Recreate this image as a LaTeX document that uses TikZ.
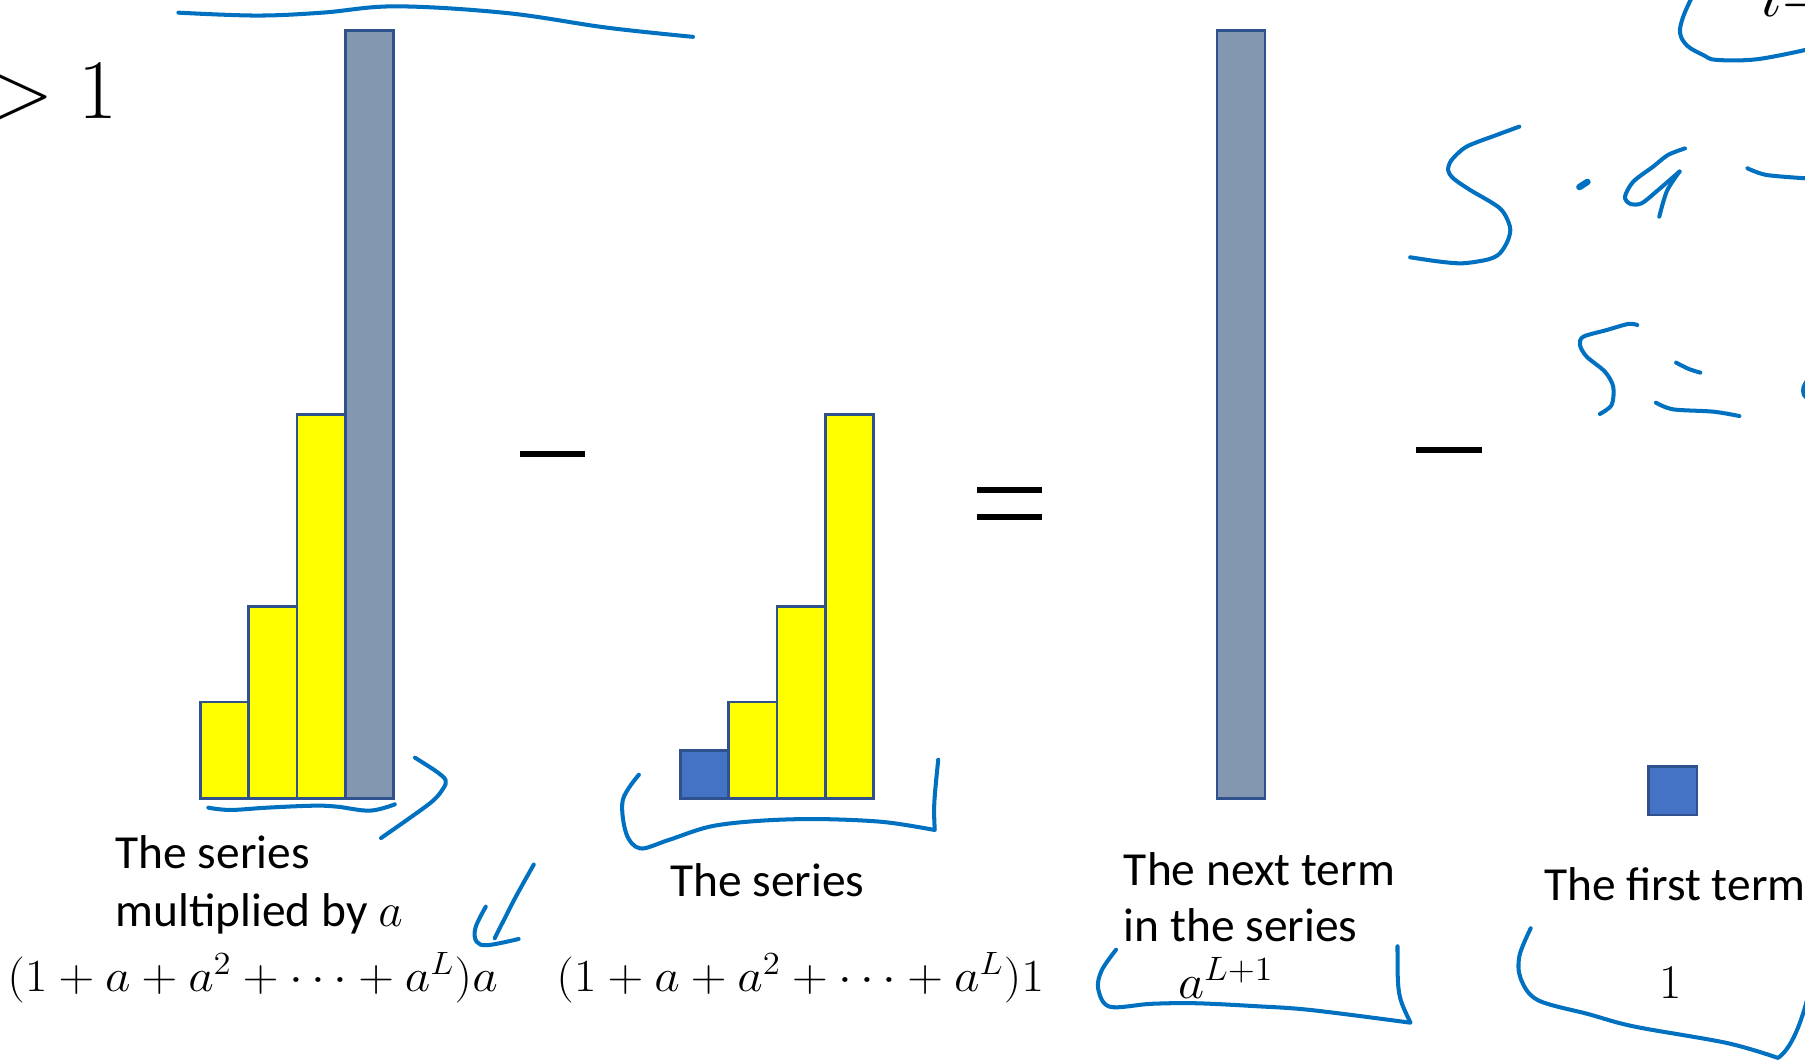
\RequirePackage{fix-cm}
\documentclass[tikz,border=0pt]{standalone}
\usepackage[no-math]{fontspec}
\usepackage{graphicx}
\setmainfont{Carlito}
\definecolor{ink}{HTML}{0070C0}
\definecolor{barY}{HTML}{FFFF00}
\definecolor{barG}{HTML}{8497B0}
\definecolor{barB}{HTML}{4472C4}
\definecolor{edgeC}{HTML}{2F528F}
\begin{document}
\begin{tikzpicture}[x=0.5pt,y=-0.5pt,
  pen/.style={draw=ink, line width=1.75pt, line cap=round, line join=round},
  bar/.style={draw=edgeC, line width=1.1pt},
  sign/.style={draw=black, line width=2.6pt},
  lbl/.style={inner sep=0pt, anchor=base west, font=\fontsize{20.6}{25}\selectfont},
  eqn/.style={inner sep=0pt, font=\fontsize{20}{24}\selectfont}]
\useasboundingbox (0,0) rectangle (1568,922);

% ---- group 1: series times a
\filldraw[bar, fill=barY] (174,610) rectangle (216,693.5);
\filldraw[bar, fill=barY] (216,526.7) rectangle (258,693.5);
\filldraw[bar, fill=barY] (258,360) rectangle (300,693.5);
\filldraw[bar, fill=barG] (300,26.3) rectangle (342,693.5);
% ---- group 2: the series
\filldraw[bar, fill=barB] (591,651.8) rectangle (633,693.5);
\filldraw[bar, fill=barY] (633,610) rectangle (675,693.5);
\filldraw[bar, fill=barY] (675,526.7) rectangle (717,693.5);
\filldraw[bar, fill=barY] (717,360) rectangle (759,693.5);
% ---- group 3: next term
\filldraw[bar, fill=barG] (1057,26.3) rectangle (1099,693.5);
% ---- group 4: first term
\filldraw[bar, fill=barB] (1432,666) rectangle (1474,708);

% ---- signs
\draw[sign] (452,394.5) -- (508,394.5);
\draw[sign] (849,425.5) -- (905,425.5);
\draw[sign] (849,449.5) -- (905,449.5);
\draw[sign] (1230,391) -- (1287,391);

% ---- texts
\node[inner sep=0pt, anchor=base east, font=\fontsize{36.8}{40}\selectfont] (cond) at (102,102.8) {$a>1$};
\node[inner sep=0pt, anchor=base west, font=\fontsize{30}{34}\selectfont] (idx) at (1528,14.5) {$i{=}$};
\node[lbl] (t1a) at (100,754.3) {The series};
\node[lbl] (t1b) at (100,805) {multiplied by $a$};
\node[eqn, anchor=base west] (m1) at (6,861) {\scalebox{1.075}[1]{$(1+a+a^2+\cdots+a^L)a$}};
\node[lbl] (t2) at (582,779) {The series};
\node[eqn, anchor=base west] (m2) at (483,861) {\scalebox{1.075}[1]{$(1+a+a^2+\cdots+a^L)1$}};
\node[lbl] (t3a) at (976,768.8) {The next term};
\node[lbl] (t3b) at (976,818) {in the series};
\node[eqn, anchor=base west, font=\fontsize{21}{25}\selectfont] (m3) at (1023,867) {\scalebox{1.05}[1]{$a^{L+1}$}};
\node[lbl] (t4) at (1341,782) {The first term};
\node[eqn, anchor=base, font=\fontsize{21}{25}\selectfont] (m4) at (1451,867) {$1$};

% ---- handwritten ink
% top stroke
\draw[pen] plot[smooth, tension=0.6] coordinates {(155,11) (223,13.5) (280,11) (344,5.5) (440,11.3) (527,24) (602,32)};
% underline group 1
\draw[pen] plot[smooth, tension=0.6] coordinates {(181,701.6) (200,703.6) (232,701.6) (272,699.9) (292.5,700.7) (321.4,704.2) (343,698.7)};
% bracket right of group 1
\draw[pen] plot[smooth, tension=0.5] coordinates {(360.5,658.2) (379.3,670.3) (387.1,677.6) (385.1,684.8) (373.5,697.8) (331,728)};
% arrow near first formula
\draw[pen] plot[smooth, tension=0.5] coordinates {(463.7,751) (447,781) (429.8,815)};
\draw[pen] plot[smooth, tension=0.6] coordinates {(422,787.6) (413,806) (414,818) (424,821) (450.5,815.7)};
% bracket group 2
\draw[pen] plot[smooth, tension=0.55] coordinates {(555,673) (541,695) (544,724) (556,737) (580,730) (617,718) (660,713) (710.5,711.5) (767,714) (812,721)}
  .. controls (811,700) .. (815,660);
% bracket group 3
\draw[pen] plot[smooth, tension=0.55] coordinates {(969.5,825) (957,843) (954,859) (964,874.5) (1000,872) (1038.6,871.5) (1090,874) (1138.8,877.4) (1225.3,888.4)}
  .. controls (1214,865) .. (1214,822);
% bracket group 4
\draw[pen] plot[smooth, tension=0.55] coordinates {(1329.7,806.4) (1320,830) (1321,850) (1335.7,868.7) (1380,881) (1420,891.8) (1500,906) (1544.5,919)}
  .. controls (1558,910) and (1568,880) .. (1574,850);
% top right curve
\draw[pen] plot[smooth, tension=0.6] coordinates {(1470,-3) (1462,15) (1459.5,29) (1466,40) (1480,48) (1491,52) (1526,51.5) (1570,43)};
% S . a -
\draw[pen] plot[smooth, tension=0.5] coordinates {(1319.8,110) (1300,117.3) (1274,127.4) (1261,139) (1258,147.7) (1262.5,155) (1277,165) (1303,181) (1311.7,197) (1310,208.5) (1303,220) (1293,225.3) (1271,228.7) (1251,227.3) (1225,223.5)};
\draw[pen, line width=2.8pt] (1372,162.5) -- (1379,158);
\draw[pen] plot[smooth, tension=0.5] coordinates {(1463.7,128.9) (1449,134.6) (1436,144.8) (1418.8,157.8) (1411.6,170.8) (1416,177) (1426,176.6) (1440.5,165) (1459,149)};
\draw[pen] plot[smooth, tension=0.5] coordinates {(1459,149) (1448,166) (1441.4,188.2)};
\draw[pen] plot[smooth, tension=0.5] coordinates {(1518,146.2) (1534.6,152) (1570,155)};
% S = (
\draw[pen] plot[smooth, tension=0.5] coordinates {(1422.3,282.3) (1414.5,281.4) (1395.7,286.7) (1375.4,292.5) (1372.5,299.7) (1378.3,309.8) (1394.2,322.9) (1401.4,335.9) (1400,351.8) (1389.8,359.6)};
\draw[pen] plot[smooth, tension=0.5] coordinates {(1456,315) (1467,320.5) (1477,323.7)};
\draw[pen] plot[smooth, tension=0.5] coordinates {(1438.5,349.8) (1453.5,355.6) (1488.3,357.6) (1511,361.4)};
\draw[pen] plot[smooth, tension=0.5] coordinates {(1570,330) (1566.5,337) (1567,343) (1570,346)};
\end{tikzpicture}
\end{document}
